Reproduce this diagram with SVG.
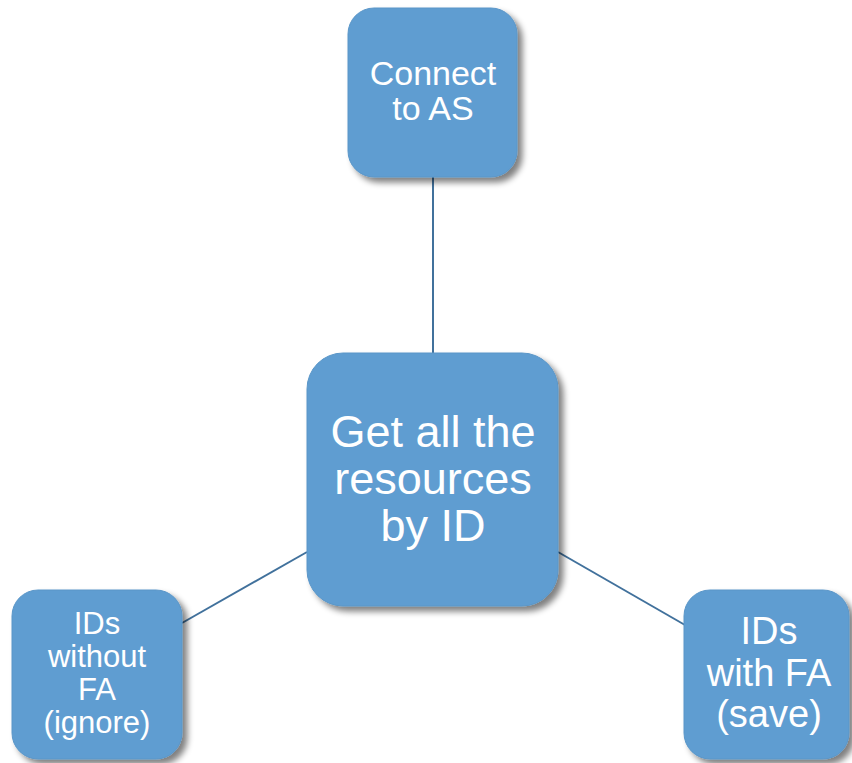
<svg xmlns="http://www.w3.org/2000/svg" width="852" height="763" viewBox="0 0 852 763">
  <defs>
    <filter id="shadow" x="-20%" y="-20%" width="150%" height="150%">
      <feGaussianBlur in="SourceAlpha" stdDeviation="3"/>
      <feOffset dx="5" dy="5" result="b"/>
      <feComponentTransfer><feFuncA type="linear" slope="0.5"/></feComponentTransfer>
      <feMerge><feMergeNode/><feMergeNode in="SourceGraphic"/></feMerge>
    </filter>
  </defs>
  <style>
    .box { fill: #5f9dd1; stroke: #5a96c8; stroke-width: 1; filter: url(#shadow); }
    .lbl { fill: #ffffff; font-family: "Liberation Sans", Arial, sans-serif; text-anchor: middle; }
    .link { stroke: #41719c; stroke-width: 2; fill: none; }
  </style>
  <rect width="852" height="763" fill="#ffffff"/>
  <g id="connectors">
    <line class="link" x1="433" y1="177" x2="433" y2="354"/>
    <line class="link" x1="182" y1="623" x2="307" y2="552"/>
    <line class="link" x1="558" y1="552" x2="685" y2="625"/>
  </g>
  <g id="connect-as">
    <rect class="box" x="348" y="8" width="169" height="169" rx="26"/>
    <text class="lbl" font-size="34"><tspan x="433" y="85">Connect</tspan><tspan x="433" y="120">to AS</tspan></text>
  </g>
  <g id="get-resources">
    <rect class="box" x="307" y="353" width="251" height="253" rx="36"/>
    <text class="lbl" font-size="45"><tspan x="433" y="447">Get all the</tspan><tspan x="433" y="494">resources</tspan><tspan x="433" y="541">by ID</tspan></text>
  </g>
  <g id="ids-without-fa">
    <rect class="box" x="12" y="590" width="170" height="169" rx="26"/>
    <text class="lbl" font-size="31"><tspan x="97" y="634">IDs</tspan><tspan x="97" y="667">without</tspan><tspan x="97" y="700">FA</tspan><tspan x="97" y="733">(ignore)</tspan></text>
  </g>
  <g id="ids-with-fa">
    <rect class="box" x="684" y="590" width="165" height="169" rx="26"/>
    <text class="lbl" font-size="38"><tspan x="769" y="644">IDs</tspan><tspan x="769" y="686">with FA</tspan><tspan x="769" y="727">(save)</tspan></text>
  </g>
</svg>
